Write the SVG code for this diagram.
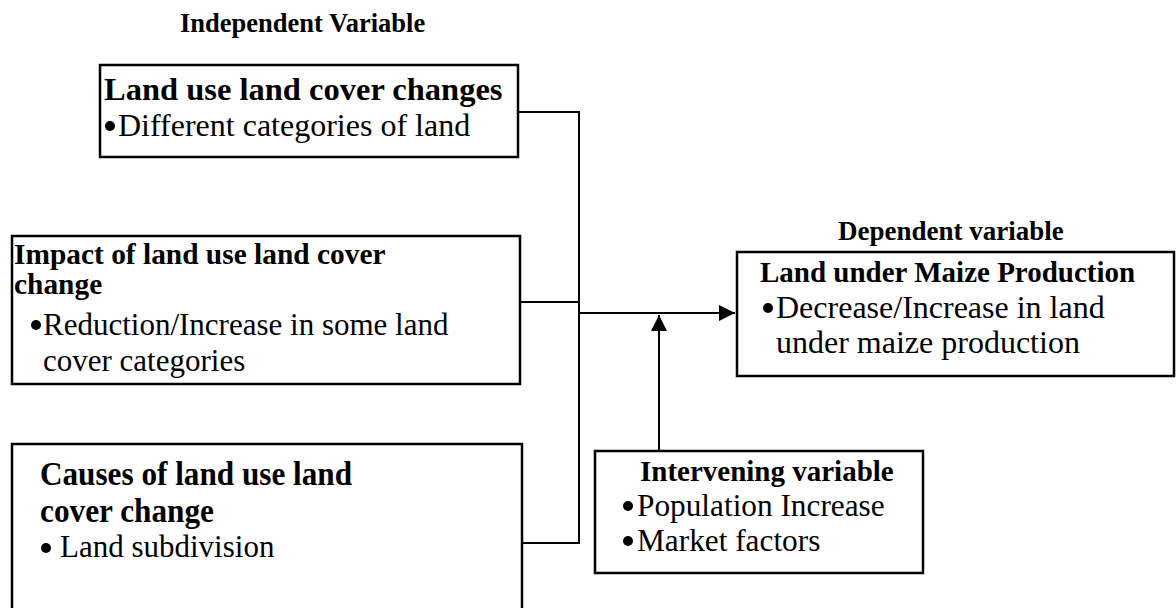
<svg xmlns="http://www.w3.org/2000/svg" width="1176" height="608" viewBox="0 0 1176 608">
<style>
.box{fill:#fff;stroke:#000;stroke-width:2.5}
.b{font-family:"Liberation Serif","Times New Roman",serif;font-weight:bold;fill:#000}
.r{font-family:"Liberation Serif","Times New Roman",serif;fill:#000}
.ln{fill:none;stroke:#000;stroke-width:2}
</style>
<defs>
<marker id="ah" markerWidth="8" markerHeight="8" refX="8" refY="4" orient="auto" markerUnits="strokeWidth">
<path d="M0,0 L8,4 L0,8 Z" fill="#000"/>
</marker>
</defs>
<rect width="1176" height="608" fill="#fff"/>
<text class="b" x="180" y="32" font-size="26.5">Independent Variable</text>
<text class="b" x="838" y="240" font-size="27">Dependent variable</text>

<g id="connectors">
<polyline class="ln" points="518,112 579,112 579,543 522,543"/>
<line class="ln" x1="520" y1="302" x2="579" y2="302"/>
<line class="ln" x1="579" y1="313" x2="735" y2="313" marker-end="url(#ah)"/>
<line class="ln" x1="659" y1="451" x2="659" y2="315" marker-end="url(#ah)"/>
</g>

<g id="n1">
<rect class="box" x="100" y="65" width="418" height="92"/>
<text class="b" x="104" y="100" font-size="32.5">Land use land cover changes</text>
<circle cx="110" cy="126" r="5"/>
<text class="r" x="118" y="136" font-size="32">Different categories of land</text>
</g>

<g id="n2">
<rect class="box" x="12" y="236" width="508" height="148"/>
<text class="b" x="14" y="264" font-size="29.4">Impact of land use land cover</text>
<text class="b" x="14" y="294" font-size="29.4">change</text>
<circle cx="36" cy="325" r="5"/>
<text class="r" x="43" y="335" font-size="31">Reduction/Increase in some land</text>
<text class="r" x="43" y="371" font-size="31">cover categories</text>
</g>

<g id="n3">
<rect class="box" x="12" y="444" width="510" height="170"/>
<text class="b" x="40" y="485" font-size="33" textLength="312" lengthAdjust="spacingAndGlyphs">Causes of land use land</text>
<text class="b" x="40" y="522" font-size="33" textLength="174" lengthAdjust="spacingAndGlyphs">cover change</text>
<circle cx="46" cy="548" r="5"/>
<text class="r" x="60" y="557" font-size="31">Land subdivision</text>
</g>

<g id="n4">
<rect class="box" x="737" y="252" width="437" height="124"/>
<text class="b" x="760" y="282" font-size="29">Land under Maize Production</text>
<circle cx="768" cy="308" r="5"/>
<text class="r" x="776" y="318" font-size="32">Decrease/Increase in land</text>
<text class="r" x="776" y="353" font-size="32">under maize production</text>
</g>

<g id="n5">
<rect class="box" x="595" y="451" width="328" height="122"/>
<text class="b" x="640" y="481" font-size="29">Intervening variable</text>
<circle cx="628" cy="506" r="5"/>
<text class="r" x="637" y="516" font-size="31.3">Population Increase</text>
<circle cx="628" cy="541" r="5"/>
<text class="r" x="637" y="551" font-size="31.3">Market factors</text>
</g>
</svg>
